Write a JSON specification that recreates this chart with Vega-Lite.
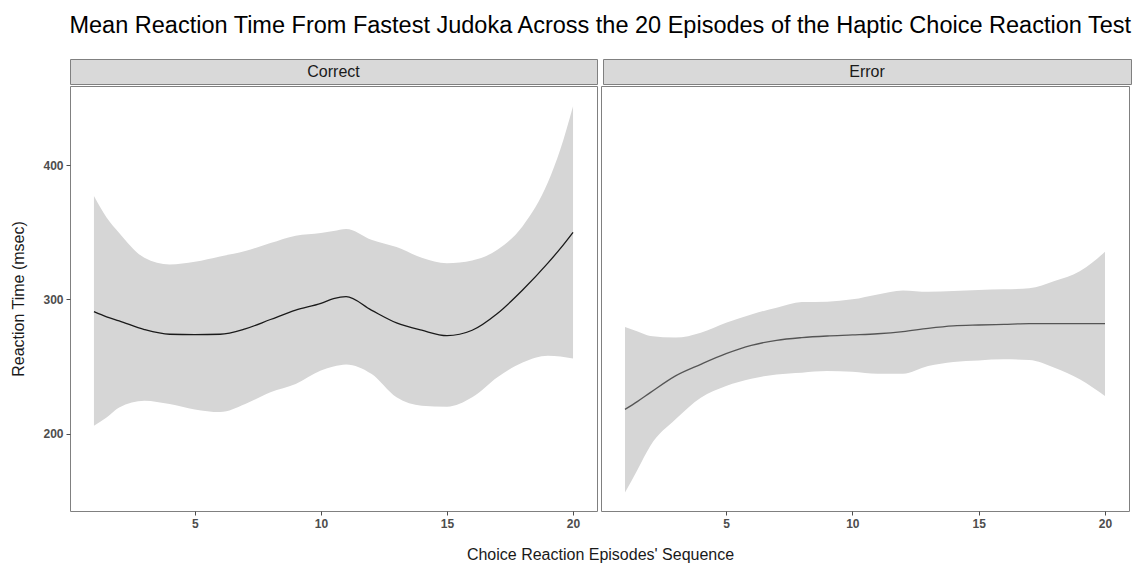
{
  "$schema": "https://vega.github.io/schema/vega-lite/v6.json",
  "background": "white",
  "padding": {"left": 10, "top": 14, "right": 14, "bottom": 4},
  "title": {"text": "Mean Reaction Time From Fastest Judoka Across the 20 Episodes of the Haptic Choice Reaction Test", "fontSize": 23.5, "fontWeight": "normal", "anchor": "start", "frame": "bounds", "dx": 59, "offset": 21, "color": "#000000", "font": "Liberation Sans"},
  "datasets": {
    "smooth": [
      {"panel": "Correct", "x": 1, "fit": 290.8, "lo": 205.8, "hi": 377},
      {"panel": "Correct", "x": 1.5, "fit": 287, "lo": 212, "hi": 361},
      {"panel": "Correct", "x": 2, "fit": 284, "lo": 219.5, "hi": 349.5},
      {"panel": "Correct", "x": 3, "fit": 277.5, "lo": 224.5, "hi": 331},
      {"panel": "Correct", "x": 4, "fit": 274, "lo": 222, "hi": 326},
      {"panel": "Correct", "x": 5, "fit": 273.8, "lo": 218, "hi": 328},
      {"panel": "Correct", "x": 6, "fit": 274, "lo": 216, "hi": 332},
      {"panel": "Correct", "x": 7, "fit": 278, "lo": 222, "hi": 336},
      {"panel": "Correct", "x": 8, "fit": 285, "lo": 230.8, "hi": 342},
      {"panel": "Correct", "x": 9, "fit": 292, "lo": 237, "hi": 347.5},
      {"panel": "Correct", "x": 10, "fit": 297, "lo": 247, "hi": 349.5},
      {"panel": "Correct", "x": 10.5, "fit": 300.5, "lo": 250, "hi": 351},
      {"panel": "Correct", "x": 11, "fit": 302, "lo": 251.5, "hi": 352.5},
      {"panel": "Correct", "x": 12, "fit": 292, "lo": 244.5, "hi": 344.5},
      {"panel": "Correct", "x": 13, "fit": 282.5, "lo": 227, "hi": 339},
      {"panel": "Correct", "x": 14, "fit": 277, "lo": 220.8, "hi": 331},
      {"panel": "Correct", "x": 15, "fit": 273, "lo": 220, "hi": 327},
      {"panel": "Correct", "x": 16, "fit": 277, "lo": 227, "hi": 329},
      {"panel": "Correct", "x": 17, "fit": 289.5, "lo": 242, "hi": 337},
      {"panel": "Correct", "x": 18, "fit": 307, "lo": 253, "hi": 354.5},
      {"panel": "Correct", "x": 19, "fit": 327, "lo": 258, "hi": 387},
      {"panel": "Correct", "x": 19.5, "fit": 338, "lo": 257.5, "hi": 412},
      {"panel": "Correct", "x": 20, "fit": 350, "lo": 256, "hi": 444},
      {"panel": "Error", "x": 1, "fit": 218, "lo": 156, "hi": 279.4},
      {"panel": "Error", "x": 1.5, "fit": 224, "lo": 173.3, "hi": 276},
      {"panel": "Error", "x": 2, "fit": 230.5, "lo": 190.8, "hi": 272.7},
      {"panel": "Error", "x": 3, "fit": 243, "lo": 210.6, "hi": 271.5},
      {"panel": "Error", "x": 4, "fit": 251.6, "lo": 226.7, "hi": 275.2},
      {"panel": "Error", "x": 5, "fit": 259.5, "lo": 235.5, "hi": 282.6},
      {"panel": "Error", "x": 6, "fit": 265.7, "lo": 240.9, "hi": 288.8},
      {"panel": "Error", "x": 7, "fit": 269.5, "lo": 244.1, "hi": 293.8},
      {"panel": "Error", "x": 8, "fit": 271.5, "lo": 245.4, "hi": 298},
      {"panel": "Error", "x": 9, "fit": 272.7, "lo": 246.6, "hi": 298.3},
      {"panel": "Error", "x": 10, "fit": 273.5, "lo": 246.1, "hi": 300},
      {"panel": "Error", "x": 11, "fit": 274.4, "lo": 244.6, "hi": 303.7},
      {"panel": "Error", "x": 12, "fit": 276, "lo": 244.6, "hi": 306.7},
      {"panel": "Error", "x": 13, "fit": 278.4, "lo": 250.3, "hi": 305.7},
      {"panel": "Error", "x": 14, "fit": 280.2, "lo": 253.3, "hi": 306.2},
      {"panel": "Error", "x": 15, "fit": 280.9, "lo": 254.5, "hi": 307},
      {"panel": "Error", "x": 16, "fit": 281.4, "lo": 255.3, "hi": 307.5},
      {"panel": "Error", "x": 17, "fit": 281.9, "lo": 254.8, "hi": 308.2},
      {"panel": "Error", "x": 18, "fit": 281.9, "lo": 249.1, "hi": 313.7},
      {"panel": "Error", "x": 19, "fit": 281.9, "lo": 240.4, "hi": 321},
      {"panel": "Error", "x": 19.5, "fit": 281.9, "lo": 234.5, "hi": 327.5},
      {"panel": "Error", "x": 20, "fit": 281.9, "lo": 228, "hi": 335.5}
    ],
    "strips": [{"panel": "Correct"}, {"panel": "Error"}]
  },
  "spacing": 0,
  "vconcat": [
    {
      "spacing": 4,
      "hconcat": [
        {
          "width": 527, "height": 25,
          "data": {"name": "strips"},
          "transform": [{"filter": "datum.panel === 'Correct'"}],
          "view": {"fill": "#d9d9d9", "stroke": "#808080"},
          "mark": {"type": "text", "fontSize": 16, "color": "#1a1a1a", "font": "Liberation Sans"},
          "encoding": {"text": {"field": "panel", "type": "nominal"}}
        },
        {
          "width": 528, "height": 25,
          "data": {"name": "strips"},
          "transform": [{"filter": "datum.panel === 'Error'"}],
          "view": {"fill": "#d9d9d9", "stroke": "#808080"},
          "mark": {"type": "text", "fontSize": 16, "color": "#1a1a1a", "font": "Liberation Sans"},
          "encoding": {"text": {"field": "panel", "type": "nominal"}}
        }
      ]
    },
    {
      "spacing": 4,
      "bounds": "flush",
      "hconcat": [
        {
          "width": 527, "height": 425,
          "data": {"name": "smooth"},
          "transform": [{"filter": "datum.panel === 'Correct'"}],
          "layer": [
            {
              "mark": {"type": "area", "color": "#d6d6d6", "interpolate": "monotone"},
              "encoding": {
                "x": {"field": "x", "type": "quantitative", "scale": {"domain": [0.05, 20.95], "nice": false, "zero": false},
                      "axis": {"values": [5, 10, 15, 20], "title": "Choice Reaction Episodes' Sequence", "titleX": 530, "titleY": 43, "titleBaseline": "middle", "titleAlign": "center"}},
                "y": {"field": "hi", "type": "quantitative", "scale": {"domain": [142.3, 459], "nice": false, "zero": false},
                      "axis": {"values": [200, 300, 400], "title": "Reaction Time (msec)", "titlePadding": 16}},
                "y2": {"field": "lo"}
              }
            },
            {
              "mark": {"type": "line", "color": "#1a1a1a", "strokeWidth": 1.3, "interpolate": "monotone"},
              "encoding": {
                "x": {"field": "x", "type": "quantitative"},
                "y": {"field": "fit", "type": "quantitative"}
              }
            }
          ]
        },
        {
          "width": 528, "height": 425,
          "data": {"name": "smooth"},
          "transform": [{"filter": "datum.panel === 'Error'"}],
          "layer": [
            {
              "mark": {"type": "area", "color": "#d6d6d6", "interpolate": "monotone"},
              "encoding": {
                "x": {"field": "x", "type": "quantitative", "scale": {"domain": [0.05, 20.95], "nice": false, "zero": false},
                      "axis": {"values": [5, 10, 15, 20], "title": null}},
                "y": {"field": "hi", "type": "quantitative", "scale": {"domain": [142.3, 459], "nice": false, "zero": false}, "axis": null},
                "y2": {"field": "lo"}
              }
            },
            {
              "mark": {"type": "line", "color": "#555555", "strokeWidth": 1.3, "interpolate": "monotone"},
              "encoding": {
                "x": {"field": "x", "type": "quantitative"},
                "y": {"field": "fit", "type": "quantitative"}
              }
            }
          ]
        }
      ]
    }
  ],
  "config": {
    "font": "Liberation Sans",
    "view": {"stroke": "#808080", "strokeWidth": 1},
    "axis": {"grid": false, "domain": false, "labelFont": "Liberation Sans", "labelFontWeight": "bold", "labelFontSize": 12, "labelColor": "#4d4d4d", "tickColor": "#4d4d4d", "tickSize": 4, "labelPadding": 3, "titleFont": "Liberation Sans", "titleFontWeight": "normal", "titleFontSize": 16, "titleColor": "#1a1a1a"}
  }
}
